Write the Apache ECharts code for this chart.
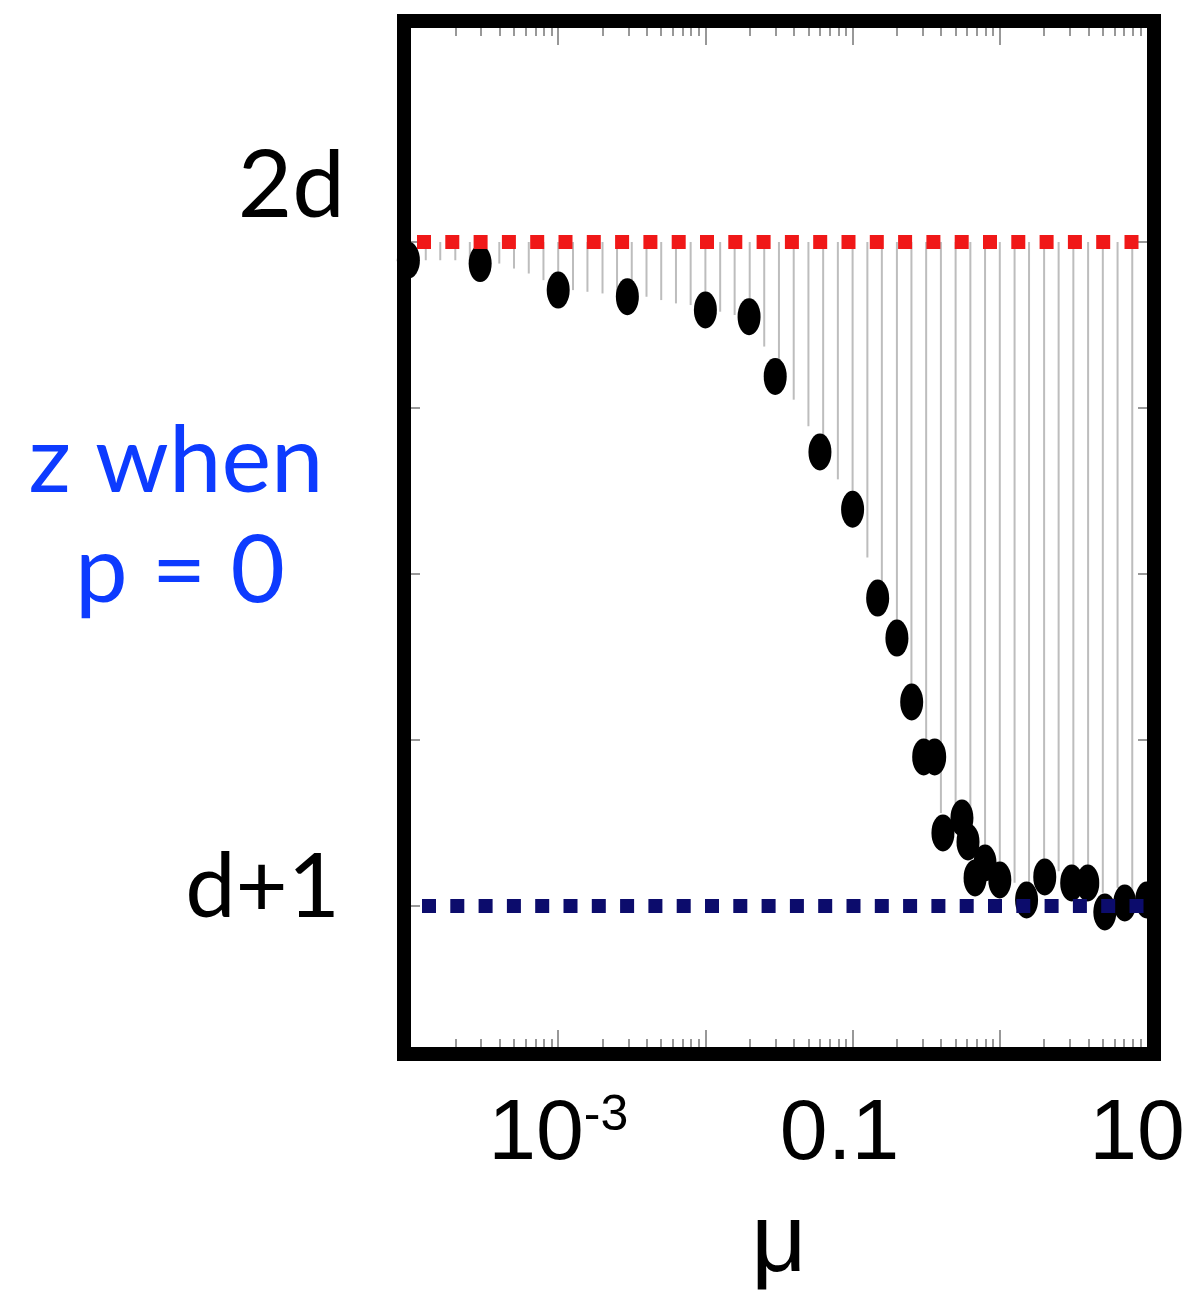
<!DOCTYPE html>
<html>
<head>
<meta charset="utf-8">
<style>
  html, body { margin: 0; padding: 0; background: #fff; }
  #chart { width: 1190px; height: 1300px; }
</style>
<script src="https://cdn.jsdelivr.net/npm/echarts@6/dist/echarts.min.js"></script>
</head>
<body>
<div id="chart"></div>
<script>
// reference levels (d = 5): 2d and d+1
const TWO_D = 10
const D_PLUS_1 = 6

// simulated z at each mu (black dots)
const dotMu = [9.6e-5, 2.95e-4, 1.0e-3, 2.95e-3, 1.0e-2, 1.98e-2, 2.98e-2, 0.060, 0.100,
  0.148, 0.200, 0.252, 0.304, 0.361, 0.411, 0.553, 0.608, 0.679, 0.794, 1.00,
  1.52, 2.02, 3.08, 3.96, 5.17, 7.06, 9.95]
const dotZ = [9.89, 9.87, 9.71, 9.67, 9.59, 9.55, 9.19, 8.735, 8.39,
  7.855, 7.614, 7.229, 6.898, 6.898, 6.44, 6.53, 6.386, 6.169, 6.259, 6.157,
  6.036, 6.175, 6.139, 6.139, 5.964, 6.018, 6.036]

// grey drop lines hanging from the 2d level
const dropMu = [
  1.26e-4, 1.58e-4, 2.0e-4, 2.51e-4, 3.16e-4, 3.98e-4, 5.01e-4, 6.31e-4, 7.94e-4, 1.0e-3,
  1.26e-3, 1.58e-3, 2.0e-3, 2.51e-3, 3.16e-3, 3.98e-3, 5.01e-3, 6.31e-3, 7.94e-3, 1.0e-2,
  1.26e-2, 1.58e-2, 2.0e-2, 2.51e-2, 3.16e-2, 3.98e-2, 5.01e-2, 6.31e-2, 7.94e-2, 0.1,
  0.126, 0.158, 0.2, 0.251, 0.316, 0.398, 0.501, 0.631, 0.794, 1.0,
  1.26, 1.58, 2.0, 2.51, 3.16, 3.98, 5.01, 6.31, 7.94
]
const dropEnd = [
  9.89, 9.89, 9.89, 9.86, 9.86, 9.87, 9.84, 9.81, 9.77, 9.71,
  9.71, 9.70, 9.69, 9.67, 9.67, 9.67, 9.65, 9.63, 9.62, 9.59,
  9.58, 9.56, 9.55, 9.37, 9.17, 9.05, 8.89, 8.72, 8.57, 8.39,
  8.10, 7.84, 7.61, 7.23, 6.90, 6.56, 6.55, 6.38, 6.32, 6.23,
  6.14, 6.11, 6.27, 6.21, 6.21, 6.21, 6.08, 6.11, 6.08
]

// axis ticks and labels
const xMajorTicks = [1e-3, 1e-2, 1e-1, 1]
const xLabelValues = [1e-3, 0.1, 10]
const xLabelText = { '-3': '{b|10}{s|-3}', '-1': '{m|0.1}', '1': '{r|10}' }
const yTicks = [6, 7, 8, 9, 10]

const X_MIN = 1e-4
const X_MAX = 10
const Y_MIN = 5.1506
const Y_MAX = 11.289

const xMinorTicks = []
;[1e-4, 1e-3, 1e-2, 1e-1, 1].forEach(dec => {
  for (let k = 2; k <= 9; k++) xMinorTicks.push(dec * k)
})

const tickStyle = { color: '#777', width: 1.5 }
const narrowFont = '"Liberation Sans Narrow", "Liberation Sans", sans-serif'
const leftFont = 'Lato, "Noto Sans", sans-serif'

function tickAxis (position, values, length) {
  return {
    type: 'log',
    position: position,
    min: X_MIN,
    max: X_MAX,
    axisLine: { show: false },
    splitLine: { show: false },
    axisLabel: { show: false },
    axisTick: { show: true, inside: true, length: length, customValues: values, lineStyle: tickStyle }
  }
}

function yTickAxis (position) {
  return {
    type: 'value',
    position: position,
    min: Y_MIN,
    max: Y_MAX,
    axisLine: { show: false },
    splitLine: { show: false },
    axisLabel: { show: false },
    axisTick: { show: true, inside: true, length: 9, customValues: yTicks, lineStyle: tickStyle }
  }
}

function labelFor (v) {
  const key = String(Math.round(Math.log10(v)))
  return xLabelText[key] || ''
}

const labelBase = { fontFamily: narrowFont, fontSize: 86, lineHeight: 100, color: '#000' }

const chart = echarts.init(document.getElementById('chart'))

chart.setOption({
  animation: false,
  backgroundColor: '#fff',
  grid: { left: 411, top: 28, right: 43, bottom: 253, outerBoundsMode: 'none' },
  xAxis: [
    {
      type: 'log',
      position: 'bottom',
      min: X_MIN,
      max: X_MAX,
      axisLine: { show: false },
      splitLine: { show: false },
      axisTick: { show: true, inside: true, length: 17, customValues: xMajorTicks, lineStyle: tickStyle },
      axisLabel: {
        show: true,
        customValues: xLabelValues,
        showMinLabel: true,
        showMaxLabel: true,
        hideOverlap: false,
        margin: 38,
        formatter: labelFor,
        color: '#000',
        rich: {
          b: Object.assign({}, labelBase),
          m: Object.assign({}, labelBase, { padding: [0, 26, 0, 0] }),
          r: Object.assign({}, labelBase, { padding: [0, 20, 0, 0] }),
          s: { fontFamily: narrowFont, fontSize: 50, lineHeight: 100, verticalAlign: 'top', color: '#000', padding: [6, 0, 0, 0] }
        }
      },
      name: 'μ',
      nameLocation: 'middle',
      nameGap: 150,
      nameTextStyle: { fontFamily: '"Liberation Sans", sans-serif', fontSize: 96, color: '#000' }
    },
    tickAxis('bottom', xMinorTicks, 8),
    tickAxis('top', xMajorTicks, 17),
    tickAxis('top', xMinorTicks, 8)
  ],
  yAxis: [yTickAxis('left'), yTickAxis('right')],
  graphic: [
    {
      type: 'rect',
      z: 100,
      shape: { x: 404, y: 21, width: 750, height: 1033 },
      style: { fill: null, stroke: '#000', lineWidth: 14 }
    },
    { type: 'text', x: 345, y: 187, style: { text: '2d', font: '94px ' + leftFont, fill: '#000', textAlign: 'right', textVerticalAlign: 'middle' } },
    { type: 'text', x: 340, y: 888, style: { text: 'd+1', font: '90px ' + leftFont, fill: '#000', textAlign: 'right', textVerticalAlign: 'middle' } },
    { type: 'text', x: 176, y: 462, style: { text: 'z when', font: '94px ' + leftFont, fill: '#0d3bff', textAlign: 'center', textVerticalAlign: 'middle' } },
    { type: 'text', x: 180, y: 572, style: { text: 'p = 0', font: '94px ' + leftFont, fill: '#0d3bff', textAlign: 'center', textVerticalAlign: 'middle' } }
  ],
  series: [
    {
      type: 'custom',
      z: 1,
      clip: true,
      data: dropMu.map((m, i) => [m, dropEnd[i]]),
      renderItem: (params, api) => {
        const top = api.coord([api.value(0), TWO_D])
        const bottom = api.coord([api.value(0), api.value(1)])
        return {
          type: 'line',
          shape: { x1: top[0], y1: top[1], x2: bottom[0], y2: bottom[1] },
          style: { stroke: '#bdbdbd', lineWidth: 2 }
        }
      }
    },
    {
      type: 'scatter',
      z: 3,
      clip: false,
      symbol: 'path://M1 0A1 1 0 1 1 -1 0A1 1 0 1 1 1 0Z',
      symbolSize: [23, 37],
      itemStyle: { color: '#000', opacity: 1 },
      data: dotMu.map((m, i) => [m, dotZ[i]])
    },
    {
      type: 'line',
      z: 4,
      symbol: 'none',
      lineStyle: { color: '#f01818', width: 14, type: [14, 14.3], dashOffset: -6, cap: 'butt' },
      data: [[X_MIN, TWO_D], [X_MAX, TWO_D]]
    },
    {
      type: 'line',
      z: 4,
      symbol: 'none',
      lineStyle: { color: '#0c0c6c', width: 14, type: [14, 14.3], dashOffset: -11, cap: 'butt' },
      data: [[X_MIN, D_PLUS_1], [X_MAX, D_PLUS_1]]
    }
  ]
})
</script>
</body>
</html>
